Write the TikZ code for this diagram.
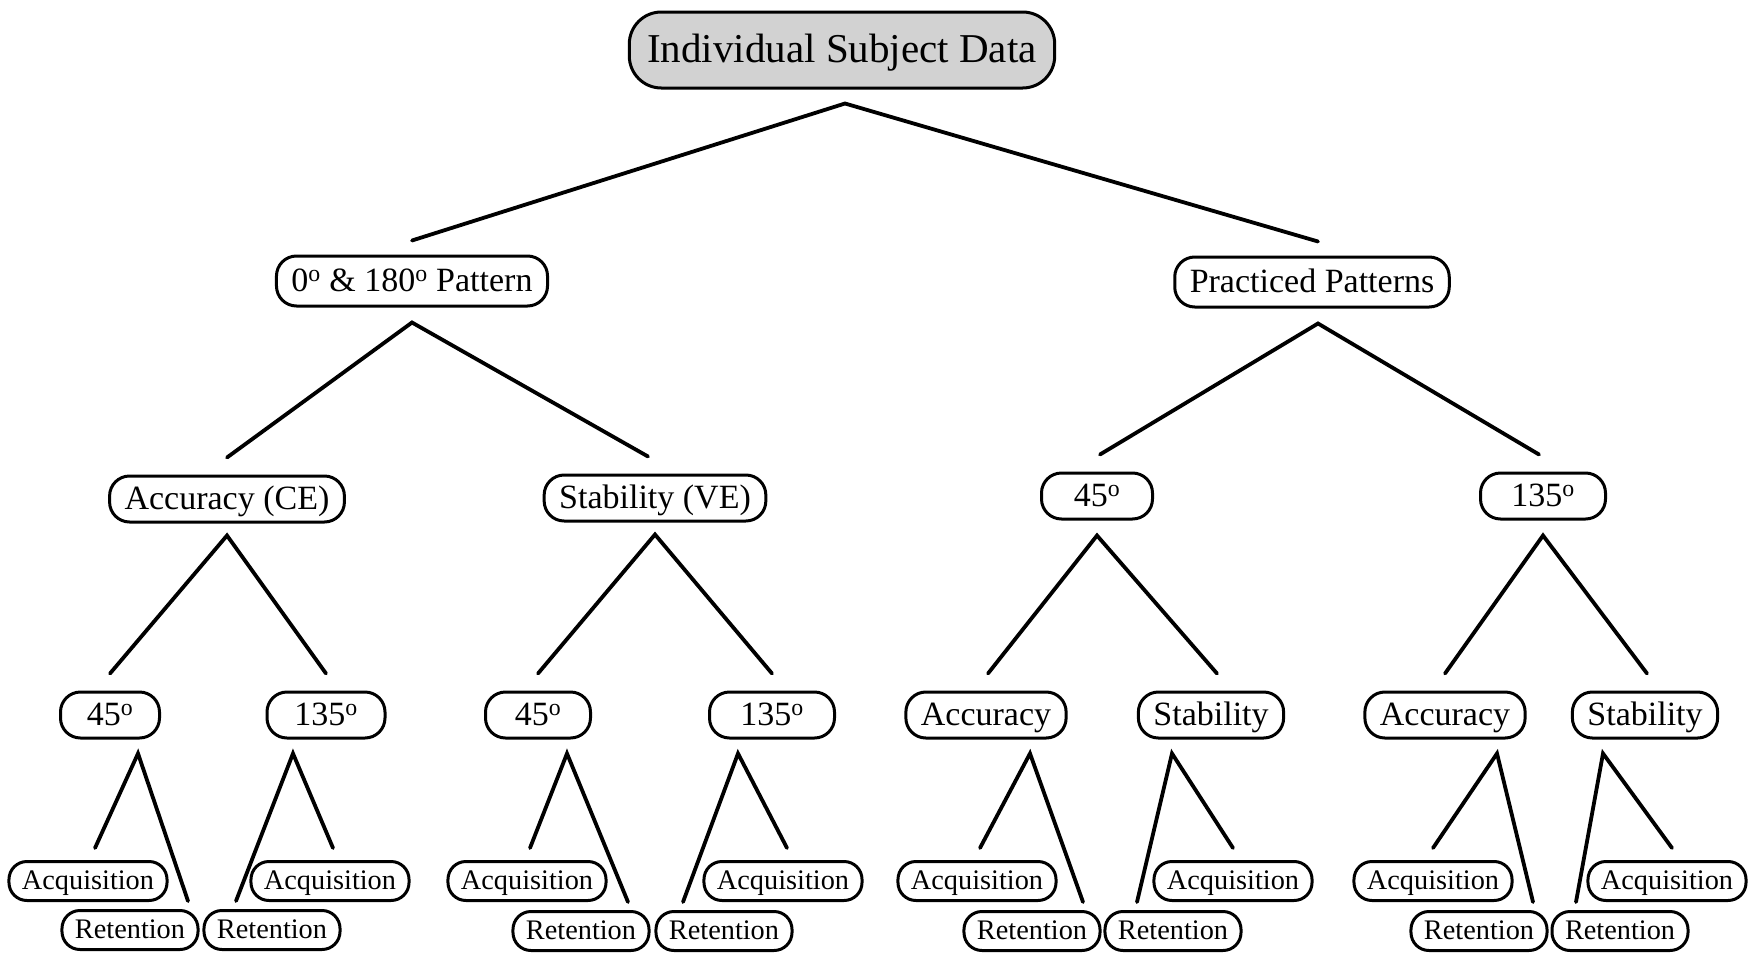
\documentclass[tikz,border=0pt]{standalone}
\usepackage{fontspec}
\setmainfont{Liberation Serif}
\usepackage{tikz}

\begin{document}
\begin{tikzpicture}[
    x=1pt, y=-1pt,
    box/.style={draw, line width=3pt, rounded corners=20pt, fill=white, align=center,
        font=\fontsize{34}{38}\selectfont, text height=27pt, text depth=7pt,
        minimum height=46pt, inner xsep=15pt, inner ysep=0pt},
    rootbox/.style={box, fill=gray!35, font=\fontsize{41}{46}\selectfont,
        text height=33pt, text depth=9pt,
        minimum height=76pt, rounded corners=32pt, inner xsep=18pt},
    leaf/.style={box, font=\fontsize{28.3}{32}\selectfont, minimum height=39pt,
        text height=23pt, text depth=6pt, rounded corners=18pt, inner xsep=13pt},
    link/.style={line width=3.8pt, line cap=round}
]
    \useasboundingbox (0,0) rectangle (1751,953);

    \node[rootbox] (root) at (842,50) {Individual Subject Data};

    \node[box, minimum height=50pt] (p0) at (412,281) {0\textsuperscript{o} \& 180\textsuperscript{o} Pattern};
    \node[box, minimum height=50pt] (pp) at (1312,282) {Practiced Patterns};

    \node[box] (ce) at (227,499) {Accuracy (CE)};
    \node[box] (ve) at (655,498) {Stability (VE)};
    \node[box, minimum width=111pt] (pa) at (1097,496) {45\textsuperscript{o}};
    \node[box, minimum width=125pt] (pb) at (1543,496) {135\textsuperscript{o}};

    \node[box, minimum width=99pt] (ce45) at (110,715) {45\textsuperscript{o}};
    \node[box, minimum width=118pt] (ce135) at (326,715) {135\textsuperscript{o}};
    \node[box, minimum width=105pt] (ve45) at (538,715) {45\textsuperscript{o}};
    \node[box, minimum width=125pt] (ve135) at (772,715) {135\textsuperscript{o}};
    \node[box] (paacc) at (986,715) {Accuracy};
    \node[box] (pastab) at (1211,715) {Stability};
    \node[box] (pbacc) at (1445,715) {Accuracy};
    \node[box] (pbstab) at (1645,715) {Stability};

    \node[leaf] (ce45a) at (88,881) {Acquisition};
    \node[leaf] (ce45r) at (130,930) {Retention};
    \node[leaf] (ce135r) at (272,930) {Retention};
    \node[leaf] (ce135a) at (330,881) {Acquisition};
    \node[leaf] (ve45a) at (527,881) {Acquisition};
    \node[leaf] (ve45r) at (581,931) {Retention};
    \node[leaf] (ve135r) at (724,931) {Retention};
    \node[leaf] (ve135a) at (783,881) {Acquisition};
    \node[leaf] (paacca) at (977,881) {Acquisition};
    \node[leaf] (paaccr) at (1032,931) {Retention};
    \node[leaf] (pastabr) at (1173,931) {Retention};
    \node[leaf] (pastaba) at (1233,881) {Acquisition};
    \node[leaf] (pbacca) at (1433,881) {Acquisition};
    \node[leaf] (pbaccr) at (1479,931) {Retention};
    \node[leaf] (pbstabr) at (1620,931) {Retention};
    \node[leaf] (pbstaba) at (1667,881) {Acquisition};

    \draw[link] ([yshift=14pt]p0.north) -- ([xshift=3pt,yshift=-14pt]root.south) -- ([xshift=6pt,yshift=14pt]pp.north);

    \draw[link] ([yshift=17pt]ce.north) -- ([yshift=-15pt]p0.south) -- ([xshift=-7pt,yshift=17pt]ve.north);
    \draw[link] ([xshift=3pt,yshift=17pt]pa.north) -- ([xshift=6pt,yshift=-15pt]pp.south) -- ([xshift=-4pt,yshift=17pt]pb.north);

    \draw[link] ([yshift=17pt]ce45.north) -- ([yshift=-12pt]ce.south) -- ([yshift=17pt]ce135.north);
    \draw[link] ([yshift=17pt]ve45.north) -- ([yshift=-12pt]ve.south) -- ([yshift=17pt]ve135.north);
    \draw[link] ([xshift=2pt,yshift=17pt]paacc.north) -- ([yshift=-15pt]pa.south) -- ([xshift=6pt,yshift=17pt]pastab.north);
    \draw[link] ([yshift=17pt]pbacc.north) -- ([yshift=-15pt]pb.south) -- ([xshift=2pt,yshift=17pt]pbstab.north);

    \draw[link] ([xshift=7pt,yshift=12pt]ce45a.north) -- ([xshift=28pt,yshift=-14pt]ce45.south) -- ([xshift=58pt,yshift=8pt]ce45r.north);
    \draw[link] ([xshift=-36pt,yshift=8pt]ce135r.north) -- ([xshift=-33pt,yshift=-14pt]ce135.south) -- ([xshift=3pt,yshift=12pt]ce135a.north);
    \draw[link] ([xshift=3pt,yshift=12pt]ve45a.north) -- ([xshift=29pt,yshift=-14pt]ve45.south) -- ([xshift=47pt,yshift=8pt]ve45r.north);
    \draw[link] ([xshift=-41pt,yshift=8pt]ve135r.north) -- ([xshift=-34pt,yshift=-14pt]ve135.south) -- ([xshift=4pt,yshift=12pt]ve135a.north);
    \draw[link] ([xshift=3pt,yshift=12pt]paacca.north) -- ([xshift=44pt,yshift=-14pt]paacc.south) -- ([xshift=51pt,yshift=8pt]paaccr.north);
    \draw[link] ([xshift=-36pt,yshift=8pt]pastabr.north) -- ([xshift=-39pt,yshift=-14pt]pastab.south) -- ([xshift=0pt,yshift=12pt]pastaba.north);
    \draw[link] ([yshift=12pt]pbacca.north) -- ([xshift=52pt,yshift=-14pt]pbacc.south) -- ([xshift=54pt,yshift=8pt]pbaccr.north);
    \draw[link] ([xshift=-44pt,yshift=8pt]pbstabr.north) -- ([xshift=-42pt,yshift=-14pt]pbstab.south) -- ([xshift=5pt,yshift=12pt]pbstaba.north);
\end{tikzpicture}
\end{document}
